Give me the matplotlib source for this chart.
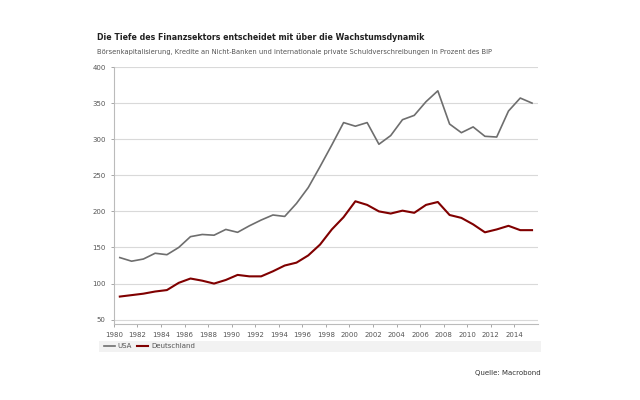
import matplotlib.pyplot as plt
from matplotlib.patches import Rectangle
import numpy as np

years = list(range(1980, 2016))
usa = [136, 131, 134, 142, 140, 150, 165, 168, 167, 175, 171, 180,
       188, 195, 193, 211, 233, 262, 292, 323, 318, 323, 293, 305,
       327, 333, 352, 367, 321, 309, 317, 304, 303, 339, 357, 350]
deutschland = [82, 84, 86, 89, 91, 101, 107, 104, 100, 105, 112, 110,
               110, 117, 125, 129, 139, 154, 175, 192, 214, 209, 200, 197,
               201, 198, 209, 213, 195, 191, 182, 171, 175, 180, 174, 174]
xticks = list(range(1980, 2016, 2))
yticks = [50, 100, 150, 200, 250, 300, 350, 400]

title = "Die Tiefe des Finanzsektors entscheidet mit über die Wachstumsdynamik"
subtitle = ("Börsenkapitalisierung, Kredite an Nicht-Banken und internationale "
            "private Schuldverschreibungen in Prozent des BIP")

grid_c = '#d9d9d9'
text_c = '#555555'

fig = plt.figure(figsize=(6.4, 4), dpi=100)
ax = fig.add_axes([0.178, 0.19, 0.6625, 0.6425])

# points sit in the middle of each year
x = np.array(years) + 0.5
ax.plot(x, usa, color='#6e6e6e', lw=1.2, label='USA')
ax.plot(x, deutschland, color='#800000', lw=1.5, label='Deutschland')

ax.set_xlim(1980, 2016)
ax.set_ylim(44, 400)
ax.set_xticks(xticks)
ax.set_yticks(yticks)
ax.tick_params(labelsize=5, colors=text_c, length=2.5, width=0.6)
ax.tick_params(axis='x', color='#999999')
ax.tick_params(axis='y', color='#999999')

ax.grid(axis='y', color=grid_c, lw=0.8)
ax.set_axisbelow(True)
for s in ['top', 'right']:
    ax.spines[s].set_visible(False)
ax.spines['left'].set_color('#bbbbbb')
ax.spines['bottom'].set_color('#bbbbbb')
ax.spines['left'].set_linewidth(0.8)
ax.spines['bottom'].set_linewidth(0.8)

fig.text(0.152, 0.906, title, fontsize=5.65, fontweight='bold', color='#222222',
         va='center')
fig.text(0.152, 0.869, subtitle, fontsize=4.87, color=text_c, va='center')

# legend band
fig.patches.append(Rectangle((0.155, 0.12), 0.69, 0.0275, transform=fig.transFigure,
                             facecolor='#f2f2f2', edgecolor='none', zorder=0))
fig.legend(loc='center left', bbox_to_anchor=(0.152, 0.134), ncol=2, frameon=False,
           fontsize=5, handlelength=1.6, handletextpad=0.4, columnspacing=0.8,
           labelcolor=text_c)

fig.text(0.845, 0.068, "Quelle: Macrobond", fontsize=5, color='#333333',
         ha='right', va='center')

fig.savefig('out.png', dpi=100)
